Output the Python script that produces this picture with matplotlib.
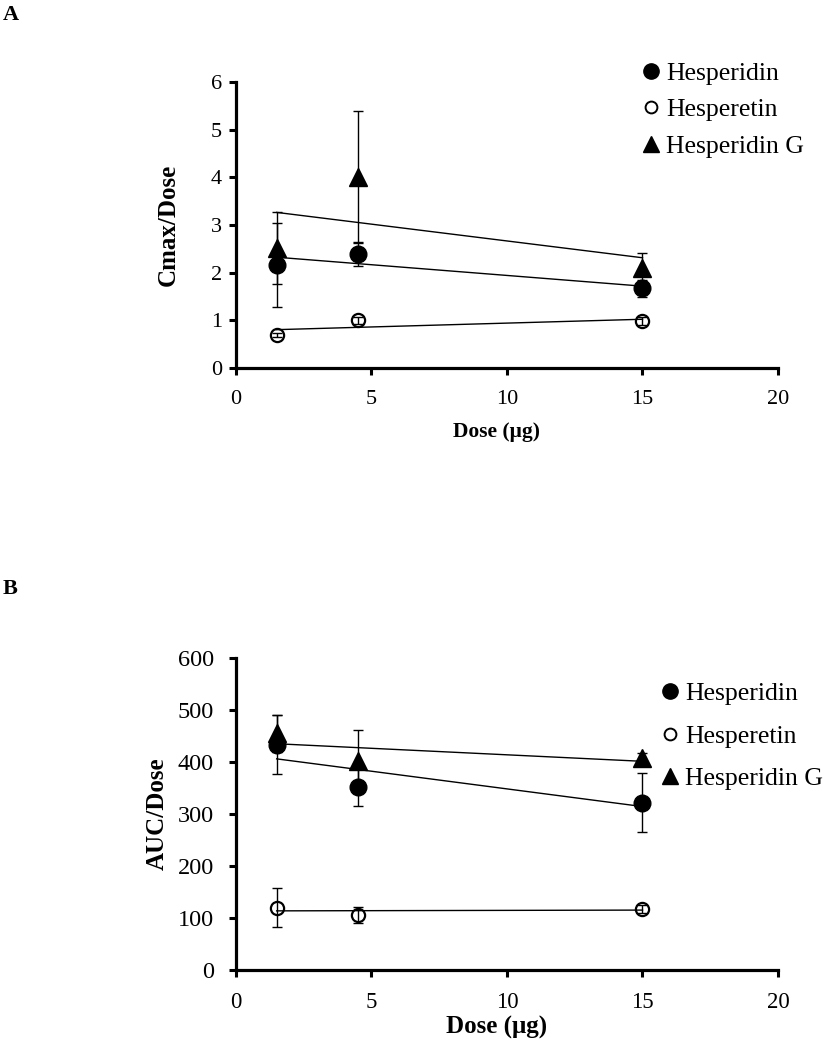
import numpy as np
import matplotlib
matplotlib.use("Agg")
import matplotlib.pyplot as plt
from matplotlib.lines import Line2D

plt.rcParams['font.family'] = ['Liberation Serif', 'DejaVu Serif']

# ---- data ----
dose = [1.5, 4.5, 15]
series_names = ["Hesperidin", "Hesperetin", "Hesperidin G"]

cmax_hesperidin = [2.16, 2.40, 1.67]
cmax_hesperidin_err = [0.89, 0.25, 0.18]
cmax_hesperetin = [0.69, 1.00, 0.99]
cmax_hesperetin_err = [0.05, 0.08, 0.08]
cmax_hesG = [2.52, 4.01, 2.10]
cmax_hesG_err = [0.75, 1.39, 0.32]

auc_hesperidin = [433, 351, 322]
auc_hesperidin_err = [57, 36, 56]
auc_hesperetin = [120, 106, 117]
auc_hesperetin_err = [38, 15, 8]
auc_hesG = [455, 402, 407]
auc_hesG_err = [36, 60, 10]

x_ticks = [0, 5, 10, 15, 20]
cmax_ticks = [0, 1, 2, 3, 4, 5, 6]
auc_ticks = [0, 100, 200, 300, 400, 500, 600]

W, H = 829, 1050
fig = plt.figure(figsize=(W / 100, H / 100), dpi=100)

def px_axes(left, top, right, bottom):
    return fig.add_axes([left / W, 1 - bottom / H, (right - left) / W, (bottom - top) / H])

styles = [
    dict(marker='o', ms=12, mfc='black', mec='black'),
    dict(marker='o', ms=9.5, mfc='none', mec='black', mew=1.6),
    dict(marker='^', ms=12.5, mfc='black', mec='black'),
]

def panel(ax, ys, errs, yticks, ymax, ylabel, xlabel_y, xlabel_size, ylabel_x,
          xtick_size, ytick_size, ypad):
    xs = np.array(dose)
    for y, e, st in zip(ys, errs, styles):
        ax.errorbar(xs, y, yerr=e, fmt='none', ecolor='black', elinewidth=1.0,
                    capsize=3.8, capthick=1.0, zorder=4)
        ax.plot(xs, y, linestyle='none', zorder=3, **st)
        k, b = np.polyfit(xs, y, 1)
        xl = np.array([xs.min(), xs.max()])
        ax.plot(xl, k * xl + b, color='black', lw=1.0, zorder=2)
    ax.set_xlim(0, 20)
    ax.set_ylim(0, ymax)
    ax.set_xticks(x_ticks)
    ax.set_yticks(yticks)
    for s in ['top', 'right']:
        ax.spines[s].set_visible(False)
    for s in ['left', 'bottom']:
        ax.spines[s].set_linewidth(2.3)
    ax.tick_params(axis='both', direction='out', length=5, width=2.2)
    ax.tick_params(axis='x', pad=11, labelsize=xtick_size)
    ax.tick_params(axis='y', pad=ypad, labelsize=ytick_size)
    ax.set_ylabel(ylabel, fontsize=18, fontweight='bold')
    ax.yaxis.set_label_coords(ylabel_x, 0.5)
    ax.set_xlabel("Dose (μg)", fontsize=xlabel_size, fontweight='bold')
    ax.xaxis.set_label_coords(0.48, xlabel_y)
    ax.xaxis.label.set_va('center')
    ax.yaxis.label.set_va('center')

def legend(ax, x, y, spacing):
    handles = [Line2D([], [], linestyle='none', marker='o', ms=11, mfc='black', mec='black'),
               Line2D([], [], linestyle='none', marker='o', ms=8.5, mfc='none', mec='black', mew=1.4),
               Line2D([], [], linestyle='none', marker='^', ms=11, mfc='black', mec='black')]
    ax.legend(handles, series_names, loc='upper left',
              bbox_to_anchor=(x / W, 1 - y / H), bbox_transform=fig.transFigure,
              frameon=False, fontsize=18.5, handlelength=0.6, handletextpad=0.3,
              borderpad=0, borderaxespad=0, labelspacing=spacing)

axA = px_axes(236, 82, 778, 368)
panel(axA, [cmax_hesperidin, cmax_hesperetin, cmax_hesG],
      [cmax_hesperidin_err, cmax_hesperetin_err, cmax_hesG_err],
      cmax_ticks, 6, "Cmax/Dose", -0.224, 15.5, -0.125, 16, 16, 5)
legend(axA, 643, 62, 0.52)

axB = px_axes(236, 658, 778, 970)
panel(axB, [auc_hesperidin, auc_hesperetin, auc_hesG],
      [auc_hesperidin_err, auc_hesperetin_err, auc_hesG_err],
      auc_ticks, 600, "AUC/Dose", -0.183, 18, -0.146, 16.5, 17.5, 11)
legend(axB, 662, 682, 0.76)

fig.text(3 / W, 1 - 15 / H, "A", fontsize=16, fontweight='bold', va='center', ha='left')
fig.text(3 / W, 1 - 589 / H, "B", fontsize=16, fontweight='bold', va='center', ha='left')

fig.savefig("out.png", dpi=100)
